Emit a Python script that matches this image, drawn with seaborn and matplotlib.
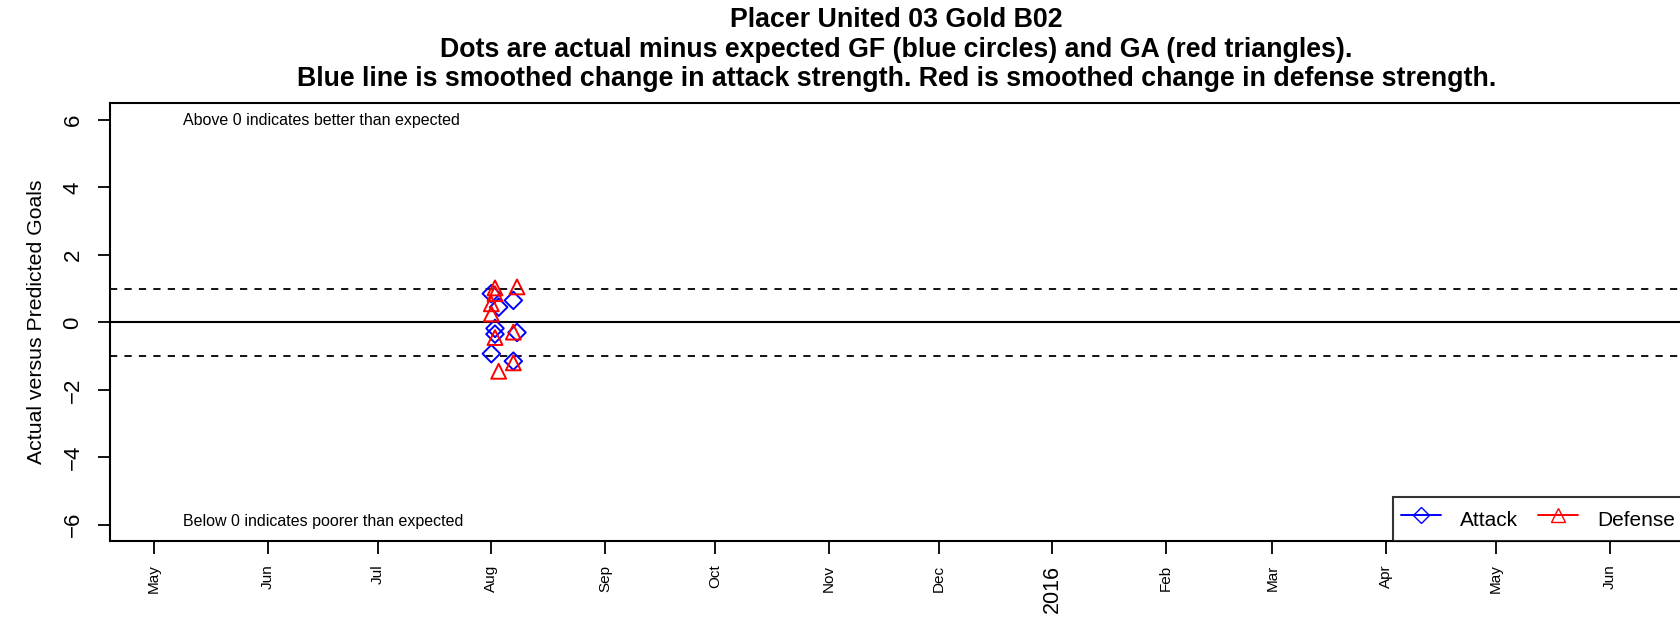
import seaborn as sns
import matplotlib.pyplot as plt
import pandas as pd
from matplotlib.lines import Line2D

# data
attack_dates = ["2015-08-01", "2015-08-03", "2015-08-07", "2015-08-02",
                "2015-08-02", "2015-08-08", "2015-08-01", "2015-08-07"]
attack_vals = [0.85, 0.45, 0.65, -0.18, -0.35, -0.30, -0.93, -1.15]

defense_dates = ["2015-08-02", "2015-08-08", "2015-08-02", "2015-08-01", "2015-08-01",
                 "2015-08-07", "2015-08-02", "2015-08-07", "2015-08-03"]
defense_vals = [1.02, 1.05, 0.85, 0.55, 0.25, -0.29, -0.45, -1.20, -1.45]

month_ticks = pd.date_range("2015-05-01", "2016-06-01", freq="MS")
month_labels = ["May", "Jun", "Jul", "Aug", "Sep", "Oct", "Nov", "Dec",
                "2016", "Feb", "Mar", "Apr", "May", "Jun"]
y_ticks = [-6, -4, -2, 0, 2, 4, 6]

title = ("Placer United 03 Gold B02\n"
         "Dots are actual minus expected GF (blue circles) and GA (red triangles).\n"
         "Blue line is smoothed change in attack strength. Red is smoothed change in defense strength.")

att = pd.DataFrame({"date": pd.to_datetime(attack_dates), "val": attack_vals})
dfn = pd.DataFrame({"date": pd.to_datetime(defense_dates), "val": defense_vals})

sns.set_style("white")
plt.rcParams["font.family"] = ["Liberation Sans", "DejaVu Sans"]
plt.rcParams["text.color"] = "black"
plt.rcParams["axes.labelcolor"] = "black"
plt.rcParams["xtick.color"] = "black"
plt.rcParams["ytick.color"] = "black"

fig = plt.figure(figsize=(16.8, 6.18), dpi=100)
ax = fig.add_axes([110 / 1680, 1 - 541 / 618, 1573 / 1680, 438 / 618])

ax.axhline(0, color="black", lw=1.5, zorder=1)
ax.axhline(1, color="black", lw=1.3, ls=(0, (4, 4)), zorder=1)
ax.axhline(-1, color="black", lw=1.3, ls=(0, (4, 4)), zorder=1)

sns.scatterplot(data=att, x="date", y="val", marker="D", s=80,
                facecolor="none", edgecolor="blue", linewidth=1.4, ax=ax, zorder=3)
sns.scatterplot(data=dfn, x="date", y="val", marker="^", s=115,
                facecolor="none", edgecolor="red", linewidth=1.4, ax=ax, zorder=3)

ax.set_xlim(pd.Timestamp("2015-04-19"), pd.Timestamp("2016-06-21"))
ax.set_ylim(-6.48, 6.5)

ax.set_xticks(month_ticks)
ax.set_xticklabels(month_labels, rotation=90, fontsize=11)
for lbl in ax.get_xticklabels():
    if lbl.get_text() == "2016":
        lbl.set_fontsize(15.5)
ax.set_yticks(y_ticks)
ax.set_yticklabels([str(v).replace("-", "\u2212") for v in y_ticks], fontsize=16,
                   rotation=90, va="center")
ax.tick_params(axis="both", direction="out", length=9, width=1.3, color="black",
               left=True, bottom=True)
ax.tick_params(axis="y", pad=10)
ax.tick_params(axis="x", pad=8)

for sp in ax.spines.values():
    sp.set_color("black")
    sp.set_linewidth(1.5)

ax.set_xlabel("")
ax.set_ylabel("Actual versus Predicted Goals", fontsize=15.3, labelpad=12)
ax.set_title(title, fontsize=19.3, fontweight="bold", linespacing=1.19, pad=12)

ax.text(0.0465, 0.96, "Above 0 indicates better than expected", transform=ax.transAxes,
        fontsize=11.5, va="center", ha="left")
ax.text(0.0465, 0.045, "Below 0 indicates poorer than expected", transform=ax.transAxes,
        fontsize=11.5, va="center", ha="left")

handles = [Line2D([], [], color="blue", marker="D", mfc="none", mec="blue", ms=8, lw=1.4),
           Line2D([], [], color="red", marker="^", mfc="none", mec="red", ms=10, lw=1.4)]
leg = ax.legend(handles, ["Attack", "Defense"], loc="lower right", bbox_to_anchor=(1, 0),
                ncol=2, fontsize=15, frameon=True, fancybox=False, borderaxespad=0,
                handlelength=1.9, handletextpad=0.9, columnspacing=1.0,
                borderpad=0.4, handleheight=1.65)
leg.get_frame().set_edgecolor("black")
leg.get_frame().set_linewidth(1.5)

fig.savefig("out.png", dpi=100)
